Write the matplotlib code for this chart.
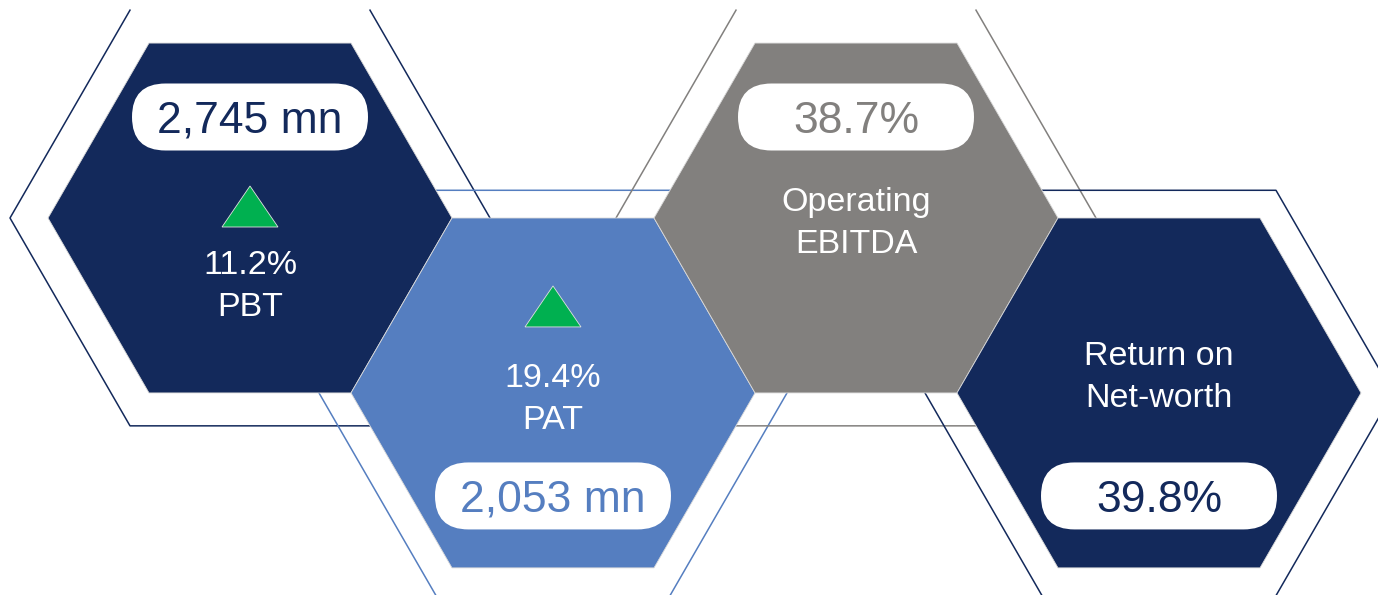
import numpy as np
import matplotlib.pyplot as plt
from matplotlib.patches import Polygon, FancyBboxPatch

plt.rcParams['font.family'] = ['Liberation Sans', 'DejaVu Sans']

# KPI values
metrics = ["PBT", "PAT", "Operating\nEBITDA", "Return on\nNet-worth"]
headline = ["2,745 mn", "2,053 mn", "38.7%", "39.8%"]
growth = ["11.2%", "19.4%", "", ""]
hex_colors = ["#13295B", "#557EC0", "#82807E", "#13295B"]

W, H = 1378, 595
R = 202                     # hexagon radius (px)
X0, Y0 = 250, 218           # centre of first hexagon
GREEN = "#00B050"

# vertical offsets from hexagon centre: first label baseline, triangle apex
label_dy = [56, -6, -7, -28]
tri_dy = [-32, -107, None, None]


def hex_pts(cx, cy, r):
    ang = np.deg2rad(np.arange(0, 360, 60))
    return np.column_stack([cx + r * np.cos(ang), cy + r * np.sin(ang)])


fig = plt.figure(figsize=(W / 100, H / 100), dpi=100)
ax = fig.add_axes([0, 0, 1, 1])
ax.set_xlim(0, W)
ax.set_ylim(H, 0)
ax.axis('off')

centres = []
for i in range(len(metrics)):
    cx = X0 + 1.5 * R * i
    cy = Y0 + (i % 2) * R * np.sqrt(3) / 2
    centres.append((cx, cy))

# thin outer outlines (outer edge left open)
for i, (cx, cy) in enumerate(centres):
    top = i % 2 == 0
    r_out = 240 if top else 234
    p = hex_pts(cx, cy, r_out)
    order = [5, 0, 1, 2, 3, 4] if top else [2, 3, 4, 5, 0, 1]
    ax.plot(p[order, 0], p[order, 1], color=hex_colors[i], lw=1.1, zorder=1)

# filled hexagons
for i, (cx, cy) in enumerate(centres):
    ax.add_patch(Polygon(hex_pts(cx, cy, R), closed=True, facecolor=hex_colors[i],
                         edgecolor="#d9d9d9", lw=0.6, zorder=2))

for i, (cx, cy) in enumerate(centres):
    top = i % 2 == 0
    # white pill with the headline number
    pc = cy - 101 if top else cy + 103
    pw, ph = 236, 67
    ax.add_patch(FancyBboxPatch((cx - pw / 2, pc - ph / 2), pw, ph,
                                boxstyle="round,pad=0,rounding_size=33.5",
                                facecolor="white", edgecolor="none", zorder=3))
    ax.text(cx, pc + 16, headline[i], color=hex_colors[i], fontsize=32,
            ha='center', va='baseline', zorder=4)

    # growth arrow
    if tri_dy[i] is not None:
        ty = cy + tri_dy[i]
        tri = [(cx, ty), (cx - 28, ty + 41), (cx + 28, ty + 41)]
        ax.add_patch(Polygon(tri, closed=True, facecolor=GREEN,
                             edgecolor="#e0e0e0", lw=0.6, zorder=4))

    lines = ([growth[i]] if growth[i] else []) + metrics[i].split("\n")
    for k, s in enumerate(lines):
        ax.text(cx, cy + label_dy[i] + 42 * k, s, color="white", fontsize=24.5,
                ha='center', va='baseline', zorder=4)

fig.savefig("out.png", dpi=100, facecolor="white")
